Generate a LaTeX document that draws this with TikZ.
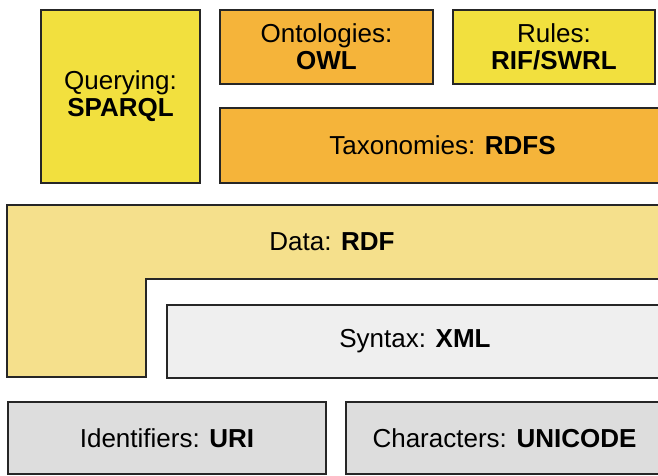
\documentclass[tikz,border=0pt]{standalone}
\usepackage{fontspec}
\setmainfont{Liberation Sans}
\begin{document}
\begin{tikzpicture}[x=1pt,y=-1pt,
  layer/.style={draw=black!85, line width=2pt, anchor=north west, inner sep=0pt,
    align=center, font=\fontsize{26}{27}\selectfont},
  label/.style={inner sep=0pt, align=center, font=\fontsize{26}{27}\selectfont},
  hard/.style={fill=querycol},
  soft/.style={fill=ontocol},
]
\definecolor{querycol}{RGB}{242,224,62}
\definecolor{ontocol}{RGB}{245,180,58}
\definecolor{datacol}{RGB}{245,224,140}
\definecolor{syntaxcol}{RGB}{239,239,239}
\definecolor{basecol}{RGB}{221,221,221}
\useasboundingbox (0,0) rectangle (658,475);
\fill[white] (0,0) rectangle (658,475);

% top layers
\node[layer, hard, minimum width=159pt, minimum height=173pt] (query) at (40,9)
  {Querying:\\\textbf{SPARQL}};
\node[layer, soft, minimum width=213pt, minimum height=74pt] (onto) at (219,9)
  {Ontologies:\\\textbf{OWL}};
\node[layer, hard, minimum width=202pt, minimum height=74pt] (rules) at (452,9)
  {Rules:\\\textbf{RIF/SWRL}};
\node[layer, soft, minimum width=445pt, minimum height=75pt] (taxo) at (219,107)
  {Taxonomies: \textbf{RDFS}};

% data layer (L-shaped)
\draw[fill=datacol, draw=black!85, line width=2pt]
  (7,205) -- (662,205) -- (662,279) -- (146,279) -- (146,377) -- (7,377) -- cycle;
\node[label] (data) at (332,242) {Data: \textbf{RDF}};

% syntax layer
\node[layer, fill=syntaxcol, minimum width=496pt, minimum height=73pt] (syntax) at (166,304)
  {Syntax: \textbf{XML}};

% base layers
\node[layer, fill=basecol, minimum width=318pt, minimum height=72pt] (ident) at (7,401)
  {Identifiers: \textbf{URI}};
\node[layer, fill=basecol, minimum width=317pt, minimum height=72pt] (chars) at (345,401)
  {Characters: \textbf{UNICODE}};
\end{tikzpicture}
\end{document}
